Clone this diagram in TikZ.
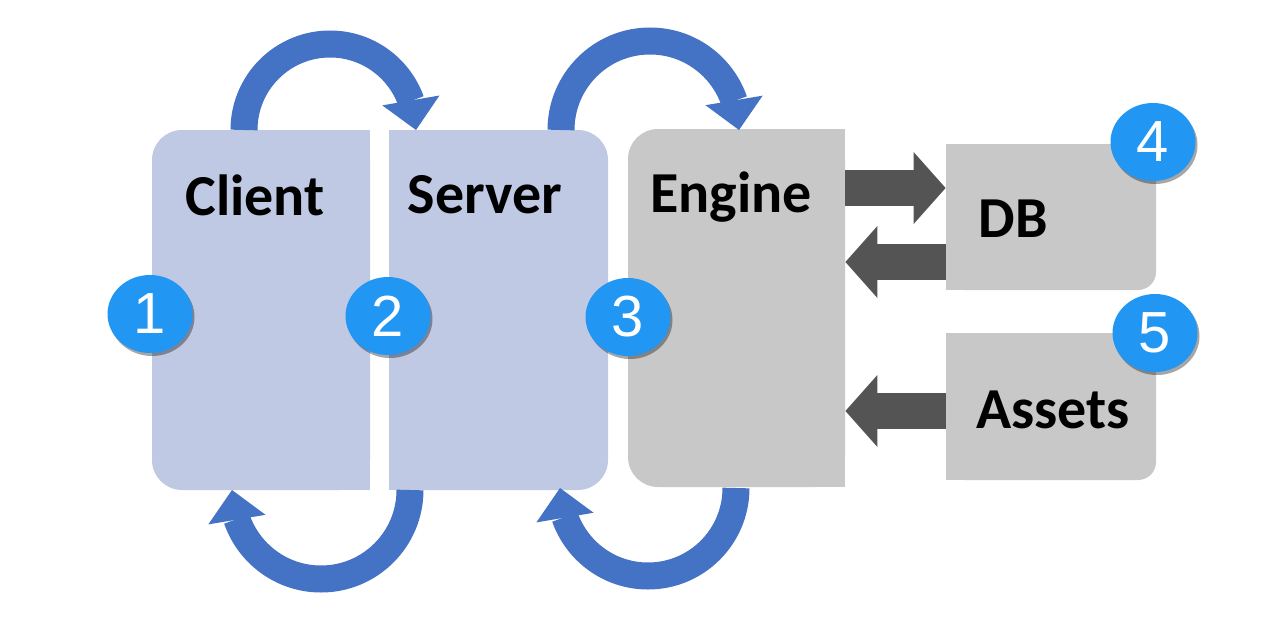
\documentclass[tikz,border=0pt]{standalone}
\usepackage{fontspec}
\setmainfont{Carlito}
\newfontfamily\numfont{Liberation Sans}
\usetikzlibrary{arrows.meta,bending,shapes.geometric,shadows}
\definecolor{bluebox}{RGB}{191,201,228}
\definecolor{graybox}{RGB}{200,200,200}
\definecolor{arcblue}{RGB}{68,114,196}
\definecolor{darkarrow}{RGB}{84,84,84}
\definecolor{badgeblue}{RGB}{33,150,243}
\begin{document}
\begin{tikzpicture}[x=0.5pt,y=0.5pt,
  box/.style={draw=none, rectangle, inner sep=0pt},
  lbl/.style={font=\fontsize{29}{30}\selectfont\bfseries, text=black, inner sep=0pt, anchor=base},
  badge/.style={ellipse, fill=badgeblue, text=white, minimum width=42.5pt, minimum height=39pt, inner sep=0pt,
    font=\numfont\fontsize{29}{29}\selectfont,
    drop shadow={shadow xshift=1pt, shadow yshift=-1.5pt, opacity=0.35, fill=black}},
  loop/.style={draw=arcblue, line width=13.5pt, -{Triangle[width=29pt,length=15pt,line width=0pt]}},
  block/.style={draw=darkarrow, line width=18pt, -{Triangle[width=36pt,length=16pt,line width=0pt]}}
]
\useasboundingbox (0,0) rectangle (1280,-637);

% boxes
\node[box, fill=bluebox, rounded corners=15pt, minimum width=109pt, minimum height=180pt] (client) at (261,-310) {};
\fill[bluebox] (261,-130) rectangle (370,-490);
\node[box, fill=bluebox, rounded corners=15pt, minimum width=109.5pt, minimum height=180pt] (server) at (498.5,-310) {};
\fill[bluebox] (389,-130) rectangle (498.5,-490);
\node[box, fill=graybox, rounded corners=15pt, minimum width=108.5pt, minimum height=179pt] (engine) at (736.5,-308) {};
\fill[graybox] (736.5,-129) rectangle (845,-487);
\node[box, fill=graybox, rounded corners=9pt, minimum width=105pt, minimum height=73pt] (db) at (1051,-217) {};
\fill[graybox] (946,-144) rectangle (1051,-290);
\node[box, fill=graybox, rounded corners=9pt, minimum width=105pt, minimum height=73.5pt] (assets) at (1051,-406.5) {};
\fill[graybox] (946,-333) rectangle (1051,-480);

% labels
\node[lbl] (clientlabel) at (255,-215) {Client};
\node[lbl] (serverlabel) at (485,-213) {Server};
\node[lbl] (enginelabel) at (731,-212) {Engine};
\node[lbl] (dblabel) at (1013,-237) {DB};
\node[lbl] (assetslabel) at (1053,-428) {Assets};

% loop arrows
\coordinate (t1) at (244,-130);
\coordinate (t2) at (561,-130);
\coordinate (u1) at (410,-490);
\coordinate (u2) at (736,-488);
\draw[loop] (t1) arc[start angle=180, end angle=0, radius=86];
\draw[loop] (t2) arc[start angle=180, end angle=0, radius=89];
\draw[loop] (u1) arc[start angle=0, end angle=-180, radius=89];
\draw[loop] (u2) arc[start angle=0, end angle=-180, radius=88];

% block arrows
\coordinate (a1) at (0,-188);
\coordinate (a2) at (0,-262);
\coordinate (a3) at (0,-411);
\draw[block] (engine.east |- a1) -- (db.west |- a1);
\draw[block] (db.west |- a2) -- (engine.east |- a2);
\draw[block] (assets.west |- a3) -- (engine.east |- a3);

% badges
\node[badge] (n1) at (150,-314) {1};
\node[badge] (n2) at (388,-316) {2};
\node[badge] (n3) at (628,-317) {3};
\node[badge] (n4) at (1153,-142) {4};
\node[badge] (n5) at (1155,-333) {5};
\end{tikzpicture}
\end{document}
